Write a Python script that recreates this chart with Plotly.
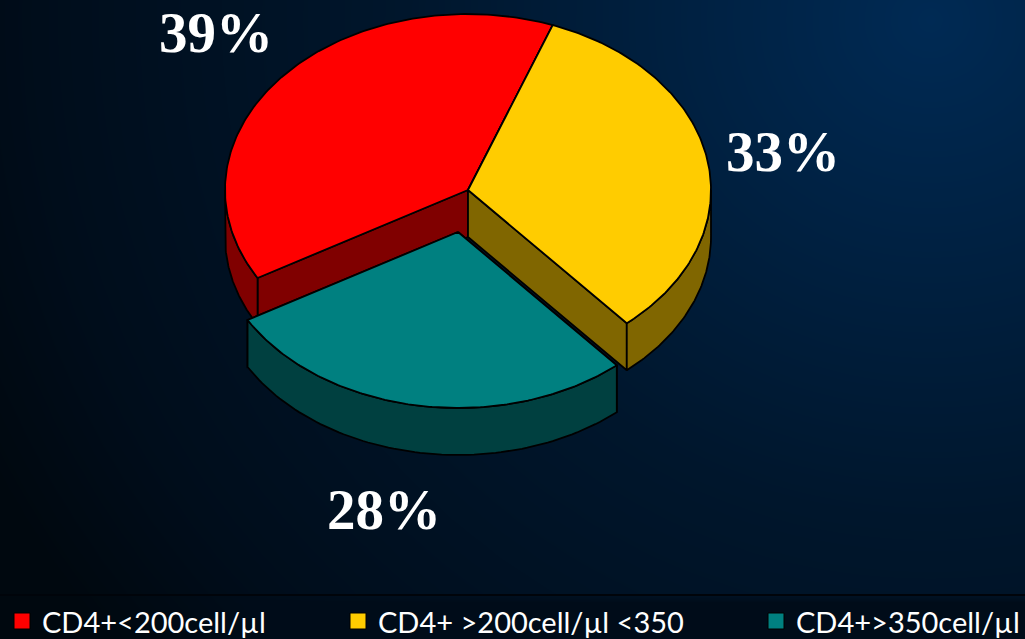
import numpy as np
import plotly.graph_objects as go

# ---- data ----
categories = ["CD4+<200cell/µl", "CD4+ >200cell/µl <350", "CD4+>350cell/µl"]
values = [39, 33, 28]
top_colors = ["#FF0000", "#FFCC00", "#008080"]
side_colors = ["#800000", "#806600", "#004040"]

# ---- pie geometry (chart space, in plot units) ----
W, H = 1025, 639
CX, CY, RX, RY = 468, 190, 243, 176
DEPTH = 47
START = 240.0
explode = [(0, 0), (0, 0), (-10, 42)]
label_pos = [(216, 32), (783, 151), (384, 509)]
swatch_x = [22, 358, 776]
legend_text_x = [40, 376, 794]
LEGEND_Y = 621


def pt(a, cx, cy):
    r = np.radians(a)
    return cx + RX * np.sin(r), cy - RY * np.cos(r)


fig = go.Figure()

# background gradient
gx = np.linspace(0, W, 110)
gy = np.linspace(0, H, 70)
XX, YY = np.meshgrid(gx, gy)
dist = np.hypot(XX - 930, (YY - 20) * 1.05)
shade = np.clip(1 - dist / 1050, 0, 1)
shade[YY > 595] = np.minimum(shade[YY > 595], 0.12)
fig.add_trace(go.Heatmap(
    x=gx, y=gy, z=shade, zmin=0, zmax=1, zsmooth="best", showscale=False, hoverinfo="skip",
    colorscale=[[0, "rgb(0,8,15)"], [0.15, "rgb(0,13,27)"], [0.5, "rgb(0,22,44)"], [1, "rgb(0,42,84)"]],
))

LINE = dict(color="#000000", width=1.8)


def poly(xs, ys, color):
    fig.add_trace(go.Scatter(
        x=list(xs) + [xs[0]], y=list(ys) + [ys[0]], mode="lines", fill="toself",
        fillcolor=color, line=LINE, hoverinfo="skip", showlegend=False,
    ))


total = sum(values)
angle = START
for i, v in enumerate(values):
    a0 = angle % 360
    a1 = a0 + 360 * v / total
    angle = a1
    cx, cy = CX + explode[i][0], CY + explode[i][1]

    # cut walls
    for a in (a0, a1):
        ex, ey = pt(a, cx, cy)
        poly([cx, ex, ex, cx], [cy, ey, ey + DEPTH, cy + DEPTH], side_colors[i])

    # outer wall: only the part of the rim facing the viewer (90..270 deg)
    lo = max(a0, 90)
    hi = min(a1, 270)
    if hi > lo:
        arc = np.linspace(lo, hi, 80)
        ax, ay = pt(arc, cx, cy)
        poly(np.r_[ax, ax[::-1]], np.r_[ay, ay[::-1] + DEPTH], side_colors[i])

    # top face
    arc = np.linspace(a0, a1, 160)
    ax, ay = pt(arc, cx, cy)
    poly(np.r_[cx, ax], np.r_[cy, ay], top_colors[i])

# slice percentage labels
for v, (lx, ly) in zip(values, label_pos):
    fig.add_annotation(x=lx, y=ly, text=f"<b>{v}%</b>", showarrow=False,
                       font=dict(family="Liberation Serif", size=57, color="white"))

# legend strip
fig.add_shape(type="line", x0=0, x1=W, y0=595, y1=595, line=dict(color="#00040a", width=2))
for i, name in enumerate(categories):
    fig.add_trace(go.Scatter(
        x=[swatch_x[i]], y=[LEGEND_Y], mode="markers", hoverinfo="skip", showlegend=False,
        marker=dict(symbol="square", size=16, color=top_colors[i], line=dict(color="#000000", width=1)),
    ))
    fig.add_annotation(x=legend_text_x[i], y=LEGEND_Y, text=name, showarrow=False, xanchor="left",
                       font=dict(family="Lato", size=29, color="white"))

fig.update_layout(
    width=W, height=H, margin=dict(l=0, r=0, t=0, b=0),
    paper_bgcolor="#00070d", plot_bgcolor="#00070d",
    xaxis=dict(range=[0, W], visible=False, fixedrange=True),
    yaxis=dict(range=[H, 0], visible=False, fixedrange=True),
    showlegend=False,
)
fig.write_html("out.html", config=dict(displayModeBar=False),
               post_script="document.body.style.margin='0';")
